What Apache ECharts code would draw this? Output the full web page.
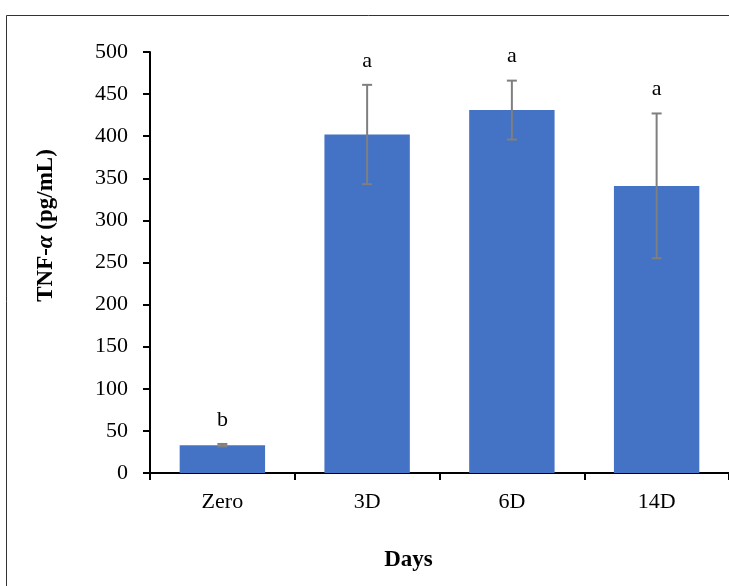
<!DOCTYPE html>
<html>
<head>
<meta charset="utf-8">
<script src="https://cdn.jsdelivr.net/npm/echarts@6/dist/echarts.min.js"></script>
<style>
html, body { margin: 0; padding: 0; background: #fff; }
#main { width: 729px; height: 586px; }
</style>
</head>
<body>
<div id="main"></div>
<script>
// data
var days = ['Zero', '3D', '6D', '14D'];
var tnfMean = [33, 402, 431, 341];
var tnfErr = [1.5, 59, 35, 86];
var letters = ['b', 'a', 'a', 'a'];

var chart = echarts.init(document.getElementById('main'));

var errData = days.map(function (d, i) {
    return [i, tnfMean[i] - tnfErr[i], tnfMean[i] + tnfErr[i], letters[i]];
});

var option = {
    animation: false,
    textStyle: { fontFamily: 'Liberation Serif' },
    graphic: [{
        type: 'rect',
        shape: { x: 6.5, y: 15.5, width: 740, height: 600 },
        style: { fill: 'none', stroke: '#333', lineWidth: 1 }
    }],
    grid: {
        left: 150,
        right: -1,
        top: 52,
        bottom: 113
    },
    xAxis: {
        type: 'category',
        data: days,
        name: 'Days',
        nameLocation: 'middle',
        nameGap: 76,
        nameTextStyle: {
            color: '#000', fontSize: 23, fontWeight: 'bold', fontFamily: 'Liberation Serif',
            padding: [0, 62, 0, 0]
        },
        axisLine: { lineStyle: { color: '#000', width: 2 } },
        axisTick: { show: true, alignWithLabel: false, length: 7, lineStyle: { color: '#000', width: 2 } },
        axisLabel: { color: '#000', fontSize: 22, margin: 18, fontFamily: 'Liberation Serif' }
    },
    yAxis: {
        type: 'value',
        min: 0,
        max: 500,
        interval: 50,
        name: 'TNF-{i|α} (pg/mL)',
        nameLocation: 'middle',
        nameGap: 92,
        nameTextStyle: {
            color: '#000', fontSize: 23, fontWeight: 'bold', fontFamily: 'Liberation Serif',
            padding: [0, 0, 0, 74],
            rich: { i: { fontStyle: 'italic', fontWeight: 'bold', fontSize: 23, fontFamily: 'Liberation Serif' } }
        },
        axisLine: { show: true, lineStyle: { color: '#000', width: 2 } },
        axisTick: { show: true, length: 7, lineStyle: { color: '#000', width: 2 } },
        axisLabel: { color: '#000', fontSize: 22, margin: 22, fontFamily: 'Liberation Serif' },
        splitLine: { show: false }
    },
    series: [
        {
            type: 'bar',
            data: tnfMean,
            barCategoryGap: '41%',
            itemStyle: { color: '#4472C4' }
        },
        {
            type: 'custom',
            data: errData,
            z: 10,
            renderItem: function (params, api) {
                var x = api.value(0);
                var lo = api.coord([x, api.value(1)]);
                var hi = api.coord([x, api.value(2)]);
                var cap = 5;
                return {
                    type: 'group',
                    children: [
                        { type: 'line', shape: { x1: lo[0], y1: lo[1], x2: hi[0], y2: hi[1] }, style: { stroke: '#7F7F7F', lineWidth: 2 } },
                        { type: 'line', shape: { x1: lo[0] - cap, y1: lo[1], x2: lo[0] + cap, y2: lo[1] }, style: { stroke: '#7F7F7F', lineWidth: 2 } },
                        { type: 'line', shape: { x1: hi[0] - cap, y1: hi[1], x2: hi[0] + cap, y2: hi[1] }, style: { stroke: '#7F7F7F', lineWidth: 2 } },
                        {
                            type: 'text',
                            x: hi[0], y: hi[1] - 13,
                            style: {
                                text: api.value(3),
                                fill: '#000',
                                font: '22px "Liberation Serif"',
                                align: 'center',
                                verticalAlign: 'bottom'
                            }
                        }
                    ]
                };
            }
        }
    ]
};

chart.setOption(option);
</script>
</body>
</html>
